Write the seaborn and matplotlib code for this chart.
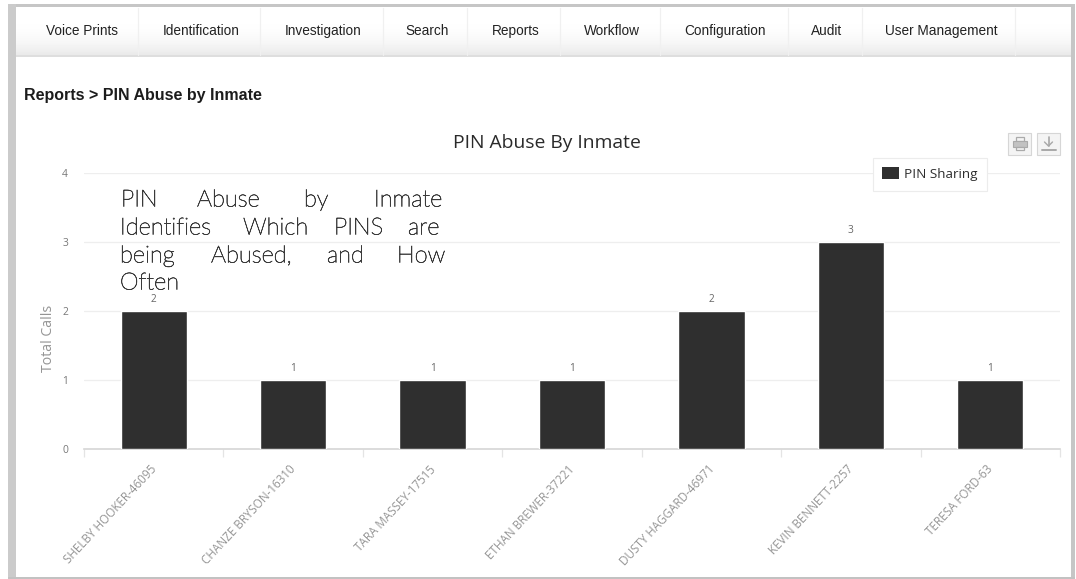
import matplotlib
matplotlib.use("Agg")
import matplotlib.pyplot as plt
import matplotlib.patheffects as pe
from matplotlib.patches import Rectangle
from matplotlib.transforms import ScaledTranslation
import numpy as np
import pandas as pd
import seaborn as sns

inmates = ["SHELBY HOOKER-46095", "CHANZE BRYSON-16310", "TARA MASSEY-17515",
           "ETHAN BREWER-37221", "DUSTY HAGGARD-46971", "KEVIN BENNETT-2257",
           "TERESA FORD-63"]
total_calls = [2, 1, 1, 1, 2, 3, 1]
series_name = "PIN Sharing"
nav_items = ["Voice Prints", "Identification", "Investigation", "Search", "Reports",
             "Workflow", "Configuration", "Audit", "User Management"]
nav_centres = [82, 201, 323, 427, 516, 612, 725, 827, 941]
nav_dividers = [138, 260, 383, 467, 560, 660, 788, 862, 1015]

W, H = 1076, 579
BAR = "#2f2f2f"
sns.set_theme(style="white")
plt.rcParams["font.family"] = ["Open Sans", "DejaVu Sans"]

fig = plt.figure(figsize=(W / 100, H / 100), dpi=100, facecolor="white")

# Page furniture in pixel coordinates: frame, navigation bar, breadcrumb
page = fig.add_axes([0, 0, 1, 1], zorder=2)
page.patch.set_alpha(0)
page.axis("off")
page.imshow((1.0 - 0.085 * np.linspace(0, 1, 48) ** 3)[:, None], cmap="gray", vmin=0, vmax=1,
            extent=(16, 1071, 55, 7), aspect="auto", zorder=1)
page.set_xlim(0, W)
page.set_ylim(H, 0)
page.add_patch(Rectangle((8, 3.5), 1067, 3.5, fc="#c6c6c6", ec="none", zorder=3))
page.add_patch(Rectangle((8, 3.5), 8, 574, fc="#cbcbcb", ec="none", zorder=3))
page.add_patch(Rectangle((1071, 3.5), 4, 574, fc="#c6c6c6", ec="none", zorder=3))
page.add_patch(Rectangle((8, 576.5), 1067, 2.5, fc="#c2c2c2", ec="none", zorder=3))
page.plot([16, 1071], [55.5, 55.5], color="#d8d8d8", lw=1.2, zorder=2)
for x in nav_dividers:
    page.plot([x, x], [8, 55], color="#f0f0f0", lw=0.9, zorder=2)
for label, x in zip(nav_items, nav_centres):
    page.text(x, 35, label, ha="center", va="baseline", fontsize=9.8,
              family="Liberation Sans", color="#222222", zorder=4)
page.text(24, 95.5, "Reports > PIN Abuse by Inmate", ha="left", va="center", fontsize=11.5,
          family="Liberation Sans", weight="bold", color="#1c1c1c")
page.text(547, 143, "PIN Abuse By Inmate", ha="center", va="center", fontsize=13.9,
          color="#2a2a2a")

# Export buttons beside the chart
for x0, glyph in ((1008, "print"), (1037, "save")):
    page.add_patch(Rectangle((x0, 133), 23, 22, fc="#f4f4f4", ec="#d6d6d6", lw=0.8))
    cx = x0 + 11.5
    if glyph == "print":
        page.add_patch(Rectangle((cx - 4, 137), 8, 4, fill=False, ec="#aaaaaa", lw=0.9))
        page.add_patch(Rectangle((cx - 7, 141), 14, 6, fc="#c2c2c2", ec="#aaaaaa", lw=0.8))
        page.add_patch(Rectangle((cx - 4, 147), 8, 3, fill=False, ec="#aaaaaa", lw=0.9))
    else:
        page.plot([cx, cx], [137, 146], color="#a8a8a8", lw=1.2)
        page.plot([cx - 4, cx, cx + 4], [142, 146, 142], color="#a8a8a8", lw=1.0)
        page.plot([cx - 7, cx + 7], [150, 150], color="#a8a8a8", lw=1.4)

# Bar chart
df = pd.DataFrame({"inmate": inmates, "calls": total_calls, "series": series_name})
ax = fig.add_axes([84 / W, 1 - 449 / H, (1060 - 84) / W, (449 - 173) / H], zorder=1)
ax.patch.set_alpha(0)
sns.barplot(data=df, x="inmate", y="calls", hue="series", palette=[BAR], width=0.475,
            saturation=1, ax=ax, legend=False, zorder=3)
ax.set_xlim(-0.5, len(inmates) - 0.5)
ax.set_ylim(0, 4)
ax.set_yticks(range(5))
ax.grid(axis="y", color="#eeeeee", lw=0.9, zorder=0)
ax.set_axisbelow(True)
for side in ("top", "right", "left"):
    ax.spines[side].set_visible(False)
ax.spines["bottom"].set_color("#d6d6d6")
ax.spines["bottom"].set_linewidth(1.2)

ax.set_xlabel("")
ax.set_ylabel("Total Calls", fontsize=10.2, color="#959595")
ax.yaxis.set_label_coords(-28 / 976, (449 - 338) / 276)
ax.tick_params(axis="y", length=0, pad=11.5, labelsize=7.4, labelcolor="#777777")

# Ticks sit on the category boundaries, labels stay under the bars
ax.set_xticks(np.arange(len(inmates)))
ax.set_xticklabels(inmates, rotation=47, ha="right", va="top", rotation_mode="anchor",
                   fontsize=8.4, color="#959595")
ax.tick_params(axis="x", which="major", length=0, pad=10)
ax.set_xticks(np.arange(len(inmates) + 1) - 0.5, minor=True)
ax.tick_params(axis="x", which="minor", bottom=True, length=6, width=0.9, color="#e4e4e4")
nudge = ScaledTranslation(-4 / 100, 0, fig.dpi_scale_trans)
for tick_label in ax.get_xticklabels():
    tick_label.set_transform(tick_label.get_transform() + nudge)

for container in ax.containers:
    ax.bar_label(container, padding=4, fontsize=7.2, color="#666666")

# Legend box over the top gridline
handle = Rectangle((0, 0), 1, 1, fc=BAR, ec="none")
legend = ax.legend([handle], [series_name], loc="upper left",
                   bbox_to_anchor=((873 - 84) / 976, (449 - 158) / 276),
                   fontsize=9.7, frameon=True, fancybox=False, framealpha=1,
                   handlelength=1.25, handleheight=1.0, handletextpad=0.35,
                   borderpad=0.7, borderaxespad=0, labelcolor="#2e2e2e")
legend.get_frame().set_edgecolor("#ececec")
legend.get_frame().set_linewidth(0.8)

# Justified caption, one word at a time; a hairline stroke gives the light face more body
caption_lines = [
    (200, [("PIN", 121), ("Abuse", 197), ("by", 304), ("Inmate", 374)]),
    (228, [("Identifies", 120), ("Which", 243), ("PINS", 334), ("are", 408)]),
    (256, [("being", 120), ("Abused,", 211), ("and", 327), ("How", 397)]),
    (283, [("Often", 120)]),
]
body = [pe.withStroke(linewidth=0.45, foreground="#3a3a3a")]
for y, words in caption_lines:
    for word, x in words:
        page.text(x, y, word, ha="left", va="center", fontsize=17, family="Lato",
                  weight="light", color="#3a3a3a", zorder=5, path_effects=body)

fig.savefig("out.png", dpi=100)
